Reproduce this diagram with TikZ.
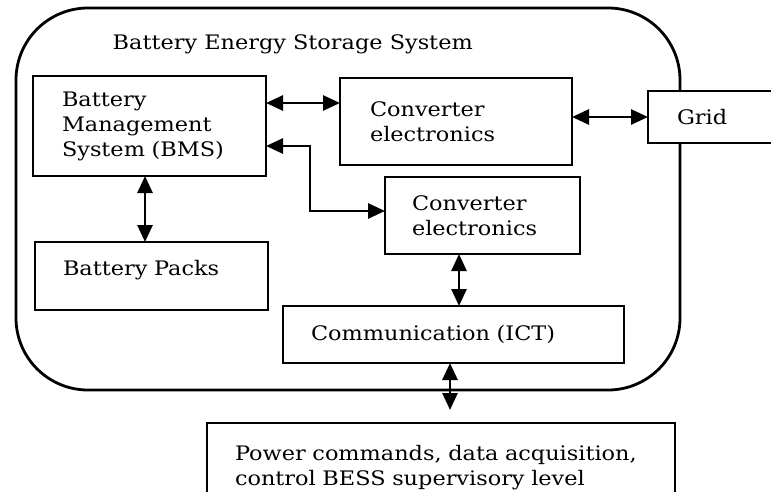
\documentclass[tikz,border=0pt]{standalone}
\usepackage{fontspec}
\setmainfont{DejaVu Serif}[FakeStretch=1.12]
\usetikzlibrary{arrows.meta}
\begin{document}
\begin{tikzpicture}[x=1pt,y=-1pt,
  line width=2.8pt,
  every node/.style={font=\fontsize{20}{25}\selectfont},
  blk/.style={draw, line width=2.8pt, fill=white, align=left, inner xsep=0pt,
              inner ysep=0pt, outer sep=0pt},
  dbl/.style={{Triangle[length=17pt,width=15pt]}-{Triangle[length=17pt,width=15pt]},
              line width=2.8pt}]
  \useasboundingbox (0,0) rectangle (771,492);

  % enclosing system outline
  \draw[rounded corners=72pt] (16,8) rectangle (680,390);
  \node[anchor=west] (title) at (108,44) {Battery Energy Storage System};

  % blocks inside the storage system
  \node[blk, minimum width=233pt, minimum height=100pt, text width=175pt]
    (bms) at (149.5,126) {Battery\\Management\\System (BMS)};
  \node[blk, minimum width=232pt, minimum height=87pt, text width=172pt]
    (convA) at (456,121.5) {Converter\\electronics};
  \node[blk, minimum width=195pt, minimum height=77pt, text width=141pt]
    (convB) at (482.5,215.5) {Converter\\electronics};
  \node[blk, minimum width=233pt, minimum height=68pt, text width=177pt]
    (packs) at (151.5,276) {\raisebox{16pt}{Battery Packs}};
  \node[blk, minimum width=341pt, minimum height=57pt, text width=285pt]
    (ict) at (453.5,334.5) {Communication (ICT)};

  % external blocks
  \node[blk, minimum width=142pt, minimum height=52pt, text width=84pt]
    (grid) at (719,117) {Grid};
  \node[blk, minimum width=468pt, minimum height=90pt, text width=412pt]
    (sup) at (441,468) {\raisebox{22pt}{\parbox[t]{412pt}{Power commands, data acquisition,\\control BESS supervisory level}}};

  \coordinate (supin) at (450,410);

  % connections
  \draw[dbl] (bms.east |- 0,103) -- (convA.west |- 0,103);
  \draw[dbl] (convA.east |- 0,117) -- (grid.west |- 0,117);
  \draw[dbl] (bms.east |- 0,146) -| (310,211) -- (convB.west |- 0,211);
  \draw[dbl] (bms.south -| 145,0) -- (packs.north -| 145,0);
  \draw[dbl] (convB.south -| 459,0) -- (ict.north -| 459,0);
  \draw[dbl] (ict.south -| supin) -- (supin);
\end{tikzpicture}
\end{document}
